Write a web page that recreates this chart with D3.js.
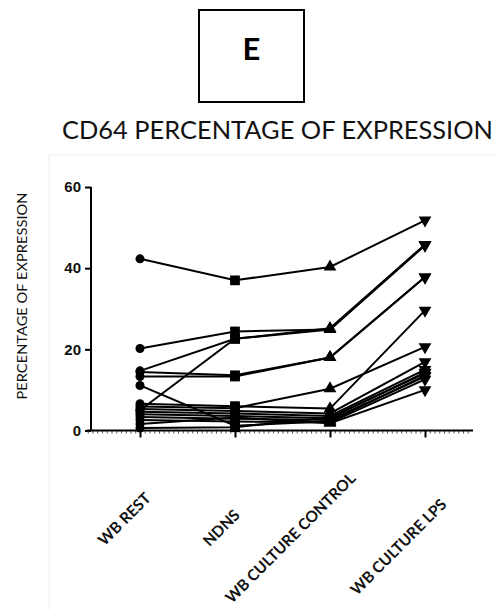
<!DOCTYPE html>
<html>
<head>
<meta charset="utf-8">
<script src="https://cdn.jsdelivr.net/npm/d3@7"></script>
<style>
  body { margin: 0; background: #fff; }
  svg { display: block; }
</style>
</head>
<body>
<div id="my_dataviz"></div>
<script>
// categories on the x axis
var categories = ["WB REST", "NDNS", "WB CULTURE CONTROL", "WB CULTURE LPS"];

// one value per subject for each condition (same index = same subject)
var wbRest    = [42.3, 20.2, 14.7, 5.0, 14.4, 13.3, 11.1, 6.6, 5.9, 5.3, 4.6, 4.0, 3.3, 2.6, 1.6, 0.6];
var ndns      = [37.0, 24.4, 22.6, 22.6, 13.6, 13.3, 1.2, 6.0, 5.5, 4.8, 4.2, 3.6, 2.9, 2.2, 3.2, 0.8];
var wbControl = [40.3, 24.9, 24.9, 25.2, 18.0, 18.0, 2.3, 5.4, 10.3, 4.2, 3.6, 3.0, 2.6, 2.0, 1.8, 3.2];
var wbLps     = [51.8, 45.8, 45.6, 45.8, 37.8, 37.8, 13.5, 29.6, 20.6, 16.9, 15.0, 14.3, 13.3, 12.6, 10.0, 14.1];

var yTicks = [0, 20, 40, 60];

// layout
var W = 497, H = 610;
var svg = d3.select("#my_dataviz")
    .append("svg")
    .attr("width", W)
    .attr("height", H);

// faint border of the pasted graph
svg.append("path")
    .attr("d", "M49,610V155H497")
    .attr("fill", "none")
    .attr("stroke", "#eeeeee")
    .attr("stroke-width", 1);

// panel letter box
svg.append("rect")
    .attr("x", 199).attr("y", 10)
    .attr("width", 105).attr("height", 92)
    .attr("fill", "none")
    .attr("stroke", "#000")
    .attr("stroke-width", 2);
svg.append("text")
    .attr("x", 251.5).attr("y", 60)
    .attr("text-anchor", "middle")
    .style("font-family", "Lato, sans-serif")
    .style("font-weight", "bold")
    .style("font-size", "31px")
    .text("E");

// title
svg.append("text")
    .attr("x", 62).attr("y", 139)
    .attr("textLength", 431)
    .attr("lengthAdjust", "spacingAndGlyphs")
    .style("font-family", "Lato, sans-serif")
    .style("font-size", "25px")
    .style("fill", "#111")
    .text("CD64 PERCENTAGE OF EXPRESSION");

// scales
var x = d3.scalePoint()
    .domain(categories)
    .range([140, 425]);
var y = d3.scaleLinear()
    .domain([0, 60])
    .range([430.5, 187]);
// index scale used for the small minor ticks under the x axis
var xi = d3.scaleLinear().domain([0, categories.length - 1]).range([140, 425]);

// y axis
var yAxis = svg.append("g")
    .attr("transform", "translate(91,0)")
    .call(d3.axisLeft(y).tickValues(yTicks).tickSize(6).tickPadding(4));
yAxis.select(".domain").attr("stroke-width", 2).attr("d", "M0," + y(60) + "V" + y(0));
yAxis.selectAll(".tick line").attr("stroke-width", 2);
yAxis.selectAll("text")
    .style("font-family", "Arial, 'Liberation Sans', sans-serif")
    .style("font-weight", "bold")
    .style("font-size", "15px")
    .attr("fill", "#111");

// x axis: minor ticks first, then major ticks and line
var minor = svg.append("g")
    .attr("transform", "translate(0," + y(0) + ")")
    .call(d3.axisBottom(xi).tickValues(d3.range(-0.55, 3.5, 0.05)).tickSize(3).tickFormat(""));
minor.select(".domain").remove();
minor.selectAll(".tick line").attr("stroke-width", 1).attr("stroke", "#555");

var xAxis = svg.append("g")
    .attr("transform", "translate(0," + y(0) + ")")
    .call(d3.axisBottom(x).tickSize(7).tickFormat(""));
xAxis.select(".domain").attr("stroke-width", 2).attr("d", "M87,0H473");
xAxis.selectAll(".tick line").attr("stroke-width", 2);

// rotated category labels (hand placed in the original figure)
var labelShift = [[-16, 88], [-14, 97], [-40, 107], [-27, 116]];
svg.selectAll(".xlab")
    .data(categories)
    .enter()
    .append("text")
    .attr("class", "xlab")
    .attr("transform", function(d, i) {
        return "translate(" + (x(d) + labelShift[i][0]) + "," + (y(0) + labelShift[i][1]) + ")rotate(-45)";
    })
    .attr("text-anchor", "middle")
    .attr("dominant-baseline", "central")
    .style("font-family", "Lato, sans-serif")
    .style("font-weight", "bold")
    .style("font-size", "15.5px")
    .style("fill", "#111")
    .text(function(d) { return d; });

// y axis title
svg.append("text")
    .attr("transform", "translate(21.5,296)rotate(-90)")
    .attr("text-anchor", "middle")
    .attr("dominant-baseline", "central")
    .attr("textLength", 207)
    .attr("lengthAdjust", "spacingAndGlyphs")
    .style("font-family", "Lato, sans-serif")
    .style("font-size", "14px")
    .style("fill", "#111")
    .text("PERCENTAGE OF EXPRESSION");

// subjects: one row per person
var columns = [wbRest, ndns, wbControl, wbLps];
var subjects = wbRest.map(function(v, i) {
    return columns.map(function(col, j) { return { cat: categories[j], value: col[i] }; });
});

var line = d3.line()
    .x(function(d) { return x(d.cat); })
    .y(function(d) { return y(d.value); });

svg.append("g").selectAll("path")
    .data(subjects)
    .enter()
    .append("path")
    .attr("d", line)
    .attr("fill", "none")
    .attr("stroke", "#000")
    .attr("stroke-width", 2);

// markers: circle, square, triangle, down triangle
var shapes = [
    { type: d3.symbolCircle, size: 64, rot: 0 },
    { type: d3.symbolSquare, size: 95, rot: 0 },
    { type: d3.symbolTriangle, size: 70, rot: 0 },
    { type: d3.symbolTriangle, size: 70, rot: 180 }
];
columns.forEach(function(col, j) {
    var s = shapes[j];
    svg.append("g").selectAll("path")
        .data(col)
        .enter()
        .append("path")
        .attr("d", d3.symbol().type(s.type).size(s.size))
        .attr("transform", function(d) {
            return "translate(" + x(categories[j]) + "," + y(d) + ")rotate(" + s.rot + ")";
        })
        .attr("fill", "#000");
});
</script>
</body>
</html>
